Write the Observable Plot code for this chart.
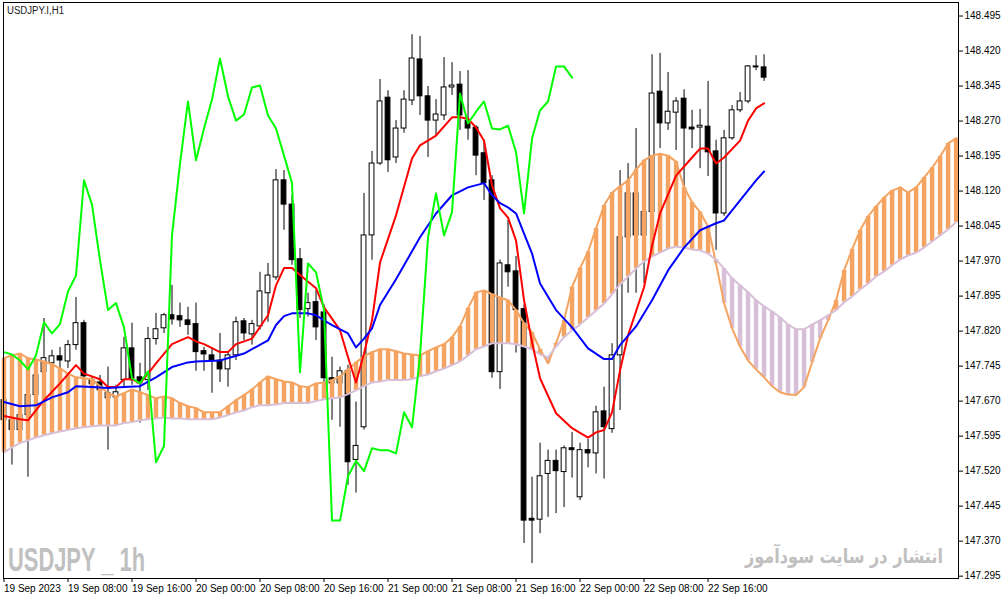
<!DOCTYPE html>
<html>
<head>
<meta charset="utf-8">
<script src="https://cdn.jsdelivr.net/npm/d3@7"></script>
<script src="https://cdn.jsdelivr.net/npm/@observablehq/plot@0.6"></script>
<style>
  body { margin: 0; background: #fff; }
  #chart svg { display: block; }
</style>
</head>
<body>
<div id="chart"></div>
<script>
// USDJPY.I H1, 19 Sep 00:00 .. 22 Sep 23:00 (bar index 0..95)
const open = [147.672,147.629,147.608,147.640,147.683,147.732,147.751,147.766,147.755,147.790,
  147.837,147.715,147.710,147.676,147.678,147.715,147.783,147.721,147.715,147.803,
  147.826,147.854,147.852,147.843,147.835,147.777,147.768,147.757,147.738,147.768,
  147.841,147.813,147.830,147.901,147.935,148.143,148.091,147.974,147.867,147.882,
  147.860,147.719,147.708,147.734,147.544,147.614,148.025,148.179,148.320,148.192,
  148.254,148.314,148.402,148.323,148.271,148.282,148.342,148.348,148.271,148.256,
  148.201,148.143,147.732,147.961,147.948,147.867,147.418,147.416,147.514,147.542,
  147.518,147.569,147.464,147.565,147.558,147.648,147.610,147.768,148.021,148.115,
  148.025,148.075,148.333,148.265,148.288,148.318,148.256,148.256,148.258,148.205,
  148.072,148.233,148.293,148.312,148.385,148.385];
const high = [147.689,147.646,147.661,147.704,147.747,147.847,147.779,147.785,147.800,147.892,
  147.843,147.721,147.725,147.743,147.704,147.807,147.837,147.751,147.828,147.858,
  147.858,147.918,147.880,147.871,147.880,147.785,147.785,147.815,147.775,147.850,
  147.847,147.843,147.946,147.965,148.166,148.164,148.111,147.997,147.901,147.907,
  147.876,147.764,147.743,147.747,147.668,148.115,148.205,148.359,148.335,148.271,
  148.335,148.455,148.451,148.344,148.316,148.406,148.395,148.376,148.378,148.260,
  148.229,148.153,147.972,148.057,147.980,147.876,147.507,147.580,147.565,147.565,
  147.574,147.603,147.580,147.588,147.659,147.700,147.793,148.164,148.179,148.254,
  148.121,148.412,148.415,148.374,148.320,148.337,148.293,148.295,148.355,148.229,
  148.250,148.303,148.331,148.389,148.410,148.412];
const low = [147.612,147.533,147.586,147.507,147.672,147.715,147.732,147.736,147.740,147.779,
  147.706,147.614,147.672,147.565,147.668,147.698,147.704,147.623,147.693,147.790,
  147.815,147.833,147.828,147.811,147.734,147.734,147.687,147.710,147.700,147.757,
  147.800,147.790,147.822,147.839,147.929,148.036,147.961,147.847,147.850,147.800,
  147.704,147.629,147.614,147.490,147.473,147.608,147.972,148.175,148.160,148.179,
  148.244,148.303,148.282,148.192,148.239,148.271,148.325,148.250,148.229,148.153,
  148.100,147.719,147.695,147.914,147.773,147.365,147.322,147.386,147.421,147.429,
  147.442,147.505,147.457,147.527,147.514,147.503,147.601,147.650,147.901,147.901,
  147.922,147.986,148.211,148.250,148.207,148.130,148.211,148.168,148.151,147.993,
  148.066,148.229,148.288,148.307,148.378,148.355];
const close = [147.629,147.608,147.640,147.683,147.725,147.762,147.766,147.757,147.790,147.837,
  147.723,147.706,147.693,147.687,147.689,147.783,147.715,147.708,147.803,147.824,
  147.854,147.845,147.843,147.833,147.775,147.770,147.757,147.738,147.768,147.839,
  147.815,147.835,147.905,147.939,148.143,148.091,147.972,147.865,147.880,147.828,
  147.719,147.708,147.734,147.539,147.574,148.025,148.179,148.312,148.186,148.254,
  148.316,148.404,148.323,148.271,148.284,148.342,148.346,148.282,148.254,148.196,
  148.137,147.732,147.965,147.946,147.865,147.414,147.414,147.509,147.542,147.520,
  147.569,147.565,147.565,147.558,147.646,147.614,147.768,148.021,148.115,148.025,
  148.075,148.329,148.265,148.290,148.312,148.254,148.252,148.260,148.203,148.072,
  148.233,148.293,148.312,148.387,148.387,148.363];

// fast (red) and slow (blue) moving averages, read at these bars
const redBars = [0,2,3,5,7,9,10,12,13,14,15,16,17,18,19,21,23,24,25,27,28,29,31,33,34,35,36,37,39,40,
  42,43,44,45,46,47,49,51,52,54,56,57,58,59,60,61,62,63,64,65,66,67,69,71,73,74,75,76,77,78,
  80,81,82,84,86,87,88,89,90,92,93,94,95];
const redVals = [147.638,147.631,147.629,147.672,147.708,147.747,147.729,147.717,147.700,147.700,
  147.717,147.717,147.708,147.729,147.751,147.792,147.807,147.798,147.792,147.775,
  147.775,147.792,147.804,147.854,147.918,147.955,147.955,147.940,147.912,147.871,
  147.822,147.764,147.710,147.772,147.843,147.967,148.068,148.190,148.218,148.239,
  148.278,148.278,148.275,148.256,148.228,148.132,148.083,148.063,148.014,147.886,
  147.796,147.719,147.644,147.612,147.592,147.603,147.608,147.646,147.736,147.811,
  147.914,148.003,148.072,148.153,148.192,148.211,148.211,148.179,148.192,148.228,
  148.271,148.297,148.308];
const blueBars = [0,2,4,6,8,9,11,13,15,17,19,21,23,24,27,30,33,34,35,36,38,39,40,41,43,44,45,46,47,49,
  52,54,56,58,60,61,62,63,64,65,66,67,69,71,73,75,76,77,79,81,83,85,87,89,90,92,94,95];
const blueVals = [147.668,147.659,147.661,147.678,147.689,147.702,147.700,147.698,147.700,147.702,
  147.721,147.743,147.753,147.755,147.757,147.772,147.800,147.833,147.852,147.858,
  147.858,147.854,147.843,147.833,147.815,147.785,147.804,147.826,147.876,147.931,
  148.021,148.072,148.111,148.128,148.137,148.111,148.094,148.085,148.072,148.029,
  147.986,147.922,147.865,147.828,147.783,147.760,147.760,147.790,147.830,147.886,
  147.950,147.999,148.036,148.051,148.057,148.100,148.143,148.162];

// Ichimoku cloud, bars 0..119 (runs past the last candle)
const spanA = [147.762,147.768,147.772,147.762,147.759,147.755,147.749,147.740,147.729,147.721,
  147.719,147.717,147.702,147.687,147.680,147.687,147.695,147.689,147.683,147.676,
  147.680,147.676,147.666,147.659,147.655,147.646,147.646,147.646,147.659,147.672,
  147.683,147.695,147.710,147.723,147.717,147.712,147.710,147.702,147.700,147.708,
  147.710,147.715,147.723,147.738,147.753,147.766,147.775,147.781,147.781,147.777,
  147.772,147.770,147.768,147.777,147.785,147.792,147.807,147.830,147.869,147.903,
  147.907,147.899,147.892,147.886,147.865,147.837,147.817,147.781,147.751,147.794,
  147.843,147.914,147.955,147.990,148.040,148.089,148.117,148.130,148.143,148.166,
  148.186,148.196,148.200,148.196,148.183,148.128,148.096,148.075,148.044,147.965,
  147.880,147.826,147.787,147.757,147.738,147.721,147.702,147.689,147.684,147.683,
  147.700,147.753,147.804,147.843,147.886,147.950,147.995,148.036,148.066,148.087,
  148.106,148.121,148.128,148.117,148.128,148.149,148.170,148.194,148.222,148.233];
const spanB = [147.560,147.571,147.580,147.586,147.592,147.597,147.601,147.605,147.608,147.612,
  147.614,147.616,147.618,147.618,147.618,147.623,147.625,147.629,147.631,147.633,
  147.635,147.633,147.633,147.631,147.631,147.631,147.631,147.635,147.640,147.646,
  147.650,147.657,147.661,147.661,147.663,147.666,147.666,147.666,147.666,147.670,
  147.674,147.676,147.678,147.685,147.693,147.702,147.710,147.712,147.715,147.715,
  147.715,147.717,147.723,147.727,147.734,147.740,147.747,147.755,147.768,147.781,
  147.787,147.794,147.794,147.794,147.792,147.787,147.781,147.770,147.764,147.787,
  147.807,147.822,147.834,147.849,147.864,147.879,147.899,147.920,147.937,147.954,
  147.969,147.980,147.988,147.997,148.001,147.999,147.995,147.993,147.986,147.973,
  147.954,147.933,147.918,147.903,147.886,147.873,147.862,147.849,147.834,147.824,
  147.824,147.834,147.843,147.854,147.865,147.882,147.894,147.909,147.922,147.937,
  147.948,147.961,147.973,147.982,147.988,147.999,148.012,148.025,148.038,148.053];

const lagShift = 24;
const timeBars = [0,8,16,24,32,40,48,56,64,72,80,88];
const timeLabels = ["19 Sep 2023","19 Sep 08:00","19 Sep 16:00","20 Sep 00:00","20 Sep 08:00","20 Sep 16:00",
  "21 Sep 00:00","21 Sep 08:00","21 Sep 16:00","22 Sep 00:00","22 Sep 08:00","22 Sep 16:00"];
const priceTicks = [147.295,147.370,147.445,147.520,147.595,147.670,147.745,147.820,147.895,
  147.970,148.045,148.120,148.195,148.270,148.345,148.420,148.495];

const candles = open.map((o, i) => ({i, o, h: high[i], l: low[i], c: close[i]}));
const cloud = spanA.map((a, i) => ({i, a, b: spanB[i]}));
const red = redBars.map((i, k) => ({i, v: redVals[k]}));
const blue = blueBars.map((i, k) => ({i, v: blueVals[k]}));
const lagging = close.slice(lagShift).map((v, i) => ({i, v}));

const up = "#f4a460", down = "#d8bfd8";
const body = {x1: d => d.i - 0.3, x2: d => d.i + 0.3, y1: "o", y2: "c", stroke: "black", strokeWidth: 1};

let chart = Plot.plot({
  width: 1004,
  height: 599,
  marginLeft: 3,
  marginRight: 46,
  marginTop: 2,
  marginBottom: 21,
  style: {fontFamily: "Tahoma, 'Liberation Sans', sans-serif", fontSize: "10px", background: "white", color: "black"},
  x: {type: "linear", domain: [-0.06, 119.3], label: null},
  y: {domain: [147.290, 148.524], label: null},
  marks: [
    Plot.ruleX(candles, {x: "i", y1: "l", y2: "h", stroke: "black", strokeWidth: 1}),
    Plot.rect(candles.filter(d => d.c >= d.o), {...body, fill: "white"}),
    Plot.rect(candles.filter(d => d.c < d.o), {...body, fill: "black"}),
    Plot.ruleX(cloud.filter(d => d.a >= d.b), {x: "i", y1: "a", y2: "b", stroke: up, strokeWidth: 4.5}),
    Plot.ruleX(cloud.filter(d => d.a < d.b), {x: "i", y1: "a", y2: "b", stroke: down, strokeWidth: 4.5}),
    Plot.line(cloud, {x: "i", y: "a", stroke: up, strokeWidth: 2}),
    Plot.line(cloud, {x: "i", y: "b", stroke: down, strokeWidth: 2}),
    Plot.line(red, {x: "i", y: "v", stroke: "#ff0000", strokeWidth: 2}),
    Plot.line(blue, {x: "i", y: "v", stroke: "#0000ff", strokeWidth: 2}),
    Plot.line(lagging, {x: "i", y: "v", stroke: "#00ff00", strokeWidth: 2}),
    Plot.axisX({ticks: timeBars, tickFormat: d => timeLabels[timeBars.indexOf(d)], tickSize: 4, tickPadding: 2, textAnchor: "start", label: null}),
    Plot.axisY({anchor: "right", ticks: priceTicks, tickFormat: d3.format(".3f"), tickSize: 4, tickPadding: 2, label: null}),
    Plot.frame({stroke: "black"})
  ]
});

let svg = d3.select(chart);
svg.append("text")
  .attr("x", 7).attr("y", 14)
  .attr("text-anchor", "start")
  .attr("font-family", "Tahoma, 'Liberation Sans', sans-serif")
  .attr("font-size", 10).attr("fill", "#1a1a1a")
  .attr("textLength", 57).attr("lengthAdjust", "spacingAndGlyphs")
  .text("USDJPY.I,H1");
svg.append("text")
  .attr("x", 8).attr("y", 571)
  .attr("text-anchor", "start")
  .attr("font-family", "'Liberation Sans Narrow', 'Liberation Sans', sans-serif")
  .attr("font-weight", "bold").attr("font-size", 34).attr("fill", "#c0c0c0")
  .attr("textLength", 137).attr("lengthAdjust", "spacingAndGlyphs")
  .text("USDJPY _ 1h");
svg.append("text")
  .attr("x", 745).attr("y", 563)
  .attr("text-anchor", "start")
  .attr("font-family", "'DejaVu Sans', sans-serif")
  .attr("font-weight", "bold").attr("font-size", 20).attr("fill", "#c0c0c0")
  .attr("textLength", 198).attr("lengthAdjust", "spacingAndGlyphs")
  .text("انتشار در سایت سودآموز");

d3.select('#chart').append(() => chart);
</script>
</body>
</html>
